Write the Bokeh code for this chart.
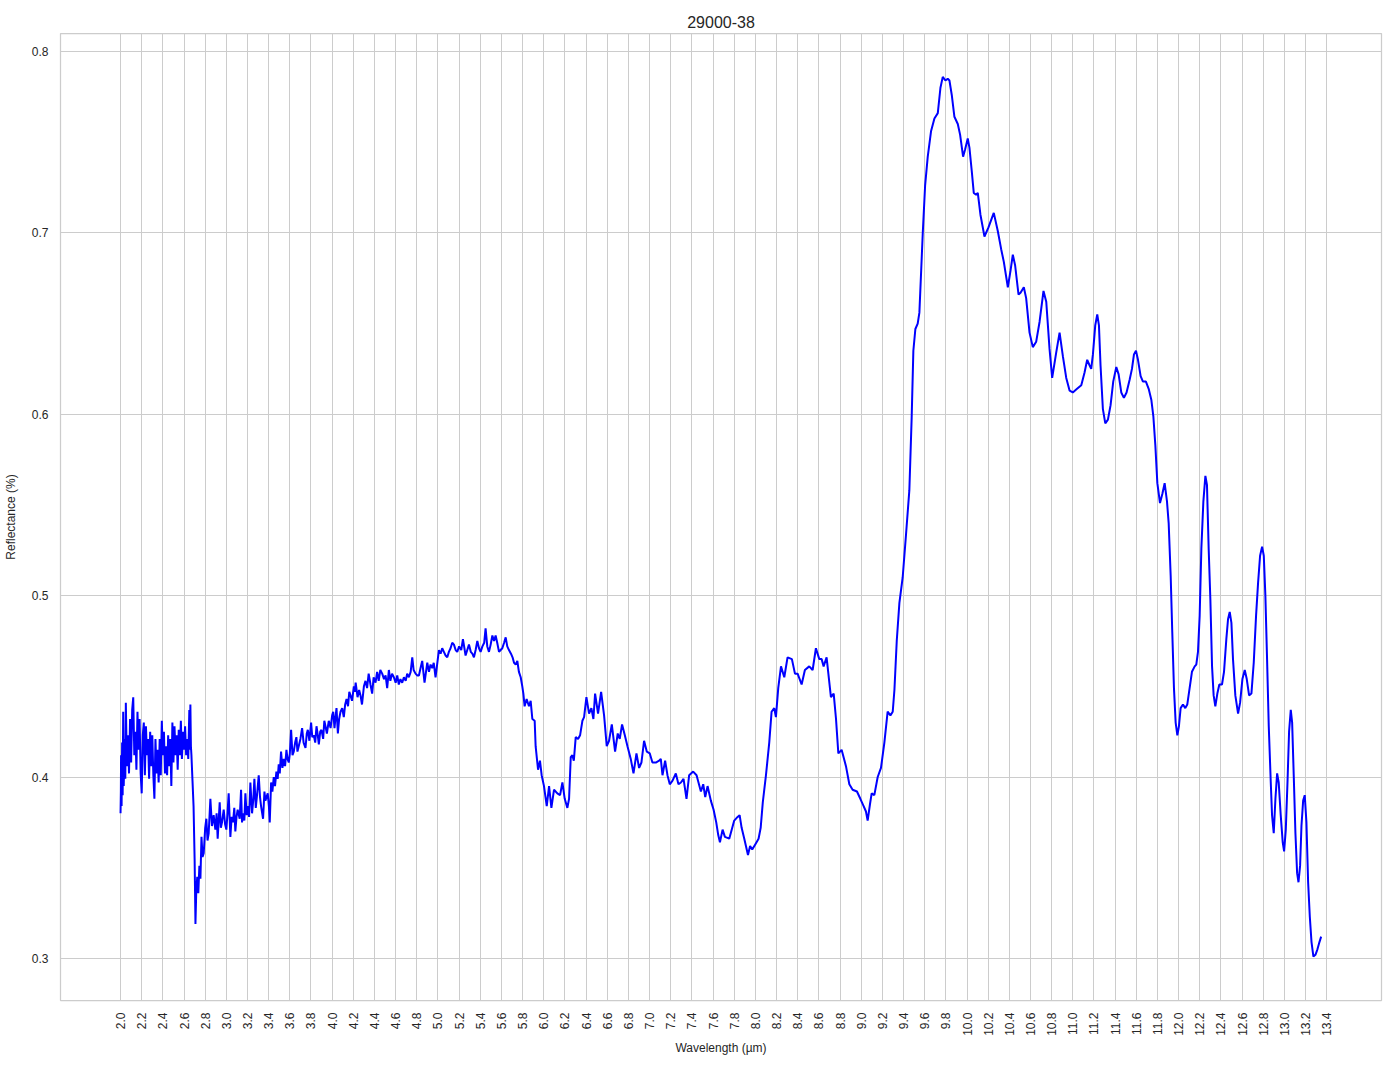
import math
from bokeh.plotting import figure
from bokeh.models import FixedTicker, PrintfTickFormatter, Range1d
from bokeh.embed import file_html
from bokeh.resources import INLINE

title_text = "29000-38"
x_label = "Wavelength (µm)"
y_label = "Reflectance (%)"

x_ticks = [2.0, 2.2, 2.4, 2.6, 2.8, 3.0, 3.2, 3.4, 3.6, 3.8, 4.0, 4.2, 4.4, 4.6, 4.8,
           5.0, 5.2, 5.4, 5.6, 5.8, 6.0, 6.2, 6.4, 6.6, 6.8, 7.0, 7.2, 7.4, 7.6, 7.8,
           8.0, 8.2, 8.4, 8.6, 8.8, 9.0, 9.2, 9.4, 9.6, 9.8, 10.0, 10.2, 10.4, 10.6,
           10.8, 11.0, 11.2, 11.4, 11.6, 11.8, 12.0, 12.2, 12.4, 12.6, 12.8, 13.0,
           13.2, 13.4]
y_ticks = [0.3, 0.4, 0.5, 0.6, 0.7, 0.8]

wavelength = [
    2.000, 2.003, 2.005, 2.010, 2.015, 2.020, 2.025, 2.030, 2.040, 2.045, 2.050, 2.060,
    2.070, 2.080, 2.090, 2.100, 2.110, 2.120, 2.130, 2.140, 2.150, 2.160, 2.170, 2.180,
    2.190, 2.200, 2.210, 2.220, 2.230, 2.240, 2.250, 2.260, 2.270, 2.280, 2.290, 2.300,
    2.310, 2.320, 2.330, 2.340, 2.350, 2.360, 2.370, 2.380, 2.390, 2.400, 2.410, 2.420,
    2.430, 2.440, 2.450, 2.460, 2.470, 2.480, 2.490, 2.500, 2.510, 2.520, 2.530, 2.540,
    2.550, 2.560, 2.570, 2.580, 2.590, 2.600, 2.610, 2.620, 2.630, 2.640, 2.650, 2.655,
    2.660, 2.665, 2.670, 2.680, 2.690, 2.700, 2.708, 2.716, 2.725, 2.735, 2.745, 2.755,
    2.765, 2.775, 2.786, 2.800, 2.811, 2.822, 2.833, 2.849, 2.864, 2.880, 2.896, 2.908,
    2.918, 2.937, 2.948, 2.959, 2.975, 2.988, 3.000, 3.011, 3.022, 3.038, 3.050, 3.063,
    3.075, 3.085, 3.096, 3.107, 3.126, 3.139, 3.148, 3.158, 3.170, 3.180, 3.192, 3.202,
    3.215, 3.227, 3.243, 3.255, 3.265, 3.278, 3.290, 3.306, 3.318, 3.328, 3.347, 3.360,
    3.369, 3.391, 3.402, 3.410, 3.423, 3.435, 3.448, 3.460, 3.473, 3.485, 3.495, 3.505,
    3.517, 3.530, 3.543, 3.555, 3.568, 3.578, 3.590, 3.600, 3.612, 3.625, 3.637, 3.650,
    3.662, 3.672, 3.684, 3.700, 3.716, 3.730, 3.748, 3.760, 3.770, 3.785, 3.801, 3.812,
    3.826, 3.840, 3.852, 3.862, 3.874, 3.887, 3.899, 3.915, 3.926, 3.937, 3.950, 3.968,
    3.985, 4.000, 4.010, 4.022, 4.032, 4.041, 4.054, 4.066, 4.079, 4.095, 4.110, 4.123,
    4.136, 4.150, 4.162, 4.173, 4.188, 4.205, 4.215, 4.222, 4.240, 4.255, 4.268, 4.282,
    4.300, 4.315, 4.330, 4.345, 4.362, 4.378, 4.392, 4.410, 4.425, 4.440, 4.455, 4.473,
    4.490, 4.505, 4.520, 4.536, 4.550, 4.566, 4.583, 4.600, 4.615, 4.630, 4.645, 4.662,
    4.678, 4.695, 4.709, 4.725, 4.742, 4.757, 4.770, 4.788, 4.805, 4.820, 4.835, 4.851,
    4.862, 4.873, 4.887, 4.899, 4.915, 4.930, 4.946, 4.960, 4.977, 4.992, 5.009, 5.025,
    5.040, 5.056, 5.072, 5.088, 5.103, 5.119, 5.135, 5.151, 5.167, 5.182, 5.200, 5.220,
    5.236, 5.250, 5.261, 5.277, 5.293, 5.310, 5.325, 5.340, 5.356, 5.372, 5.388, 5.403,
    5.420, 5.437, 5.450, 5.466, 5.482, 5.498, 5.514, 5.530, 5.545, 5.560, 5.577, 5.592,
    5.608, 5.625, 5.640, 5.655, 5.671, 5.690, 5.705, 5.719, 5.735, 5.750, 5.765, 5.782,
    5.797, 5.807, 5.819, 5.838, 5.860, 5.876, 5.892, 5.914, 5.923, 5.946, 5.964, 5.980,
    6.002, 6.028, 6.050, 6.072, 6.097, 6.128, 6.154, 6.176, 6.198, 6.223, 6.239, 6.255,
    6.270, 6.284, 6.302, 6.324, 6.343, 6.365, 6.381, 6.403, 6.428, 6.450, 6.469, 6.485,
    6.513, 6.542, 6.570, 6.595, 6.617, 6.643, 6.674, 6.699, 6.718, 6.740, 6.766, 6.791,
    6.822, 6.848, 6.876, 6.901, 6.923, 6.948, 6.974, 7.002, 7.027, 7.059, 7.090, 7.106,
    7.122, 7.147, 7.169, 7.191, 7.217, 7.248, 7.273, 7.296, 7.321, 7.349, 7.374, 7.412,
    7.444, 7.485, 7.507, 7.526, 7.548, 7.579, 7.605, 7.630, 7.649, 7.665, 7.690, 7.712,
    7.753, 7.800, 7.832, 7.851, 7.870, 7.895, 7.930, 7.950, 7.970, 8.000, 8.030, 8.050,
    8.070, 8.100, 8.131, 8.153, 8.178, 8.194, 8.216, 8.242, 8.273, 8.304, 8.345, 8.374,
    8.399, 8.437, 8.468, 8.509, 8.541, 8.572, 8.604, 8.626, 8.645, 8.673, 8.714, 8.740,
    8.762, 8.784, 8.815, 8.856, 8.888, 8.919, 8.960, 8.992, 9.023, 9.045, 9.061, 9.083,
    9.099, 9.124, 9.156, 9.187, 9.219, 9.250, 9.276, 9.298, 9.314, 9.336, 9.361, 9.392,
    9.424, 9.455, 9.477, 9.493, 9.512, 9.534, 9.550, 9.566, 9.582, 9.604, 9.629, 9.660,
    9.692, 9.724, 9.749, 9.771, 9.796, 9.818, 9.834, 9.856, 9.881, 9.913, 9.935, 9.963,
    9.982, 10.007, 10.023, 10.045, 10.064, 10.086, 10.102, 10.127, 10.165, 10.203, 10.253, 10.291,
    10.323, 10.348, 10.386, 10.411, 10.433, 10.455, 10.487, 10.506, 10.537, 10.559, 10.591, 10.622,
    10.654, 10.686, 10.723, 10.749, 10.780, 10.805, 10.843, 10.875, 10.906, 10.938, 10.970, 11.000,
    11.040, 11.080, 11.111, 11.136, 11.158, 11.174, 11.190, 11.212, 11.231, 11.247, 11.262, 11.284,
    11.307, 11.332, 11.357, 11.382, 11.411, 11.433, 11.458, 11.483, 11.508, 11.537, 11.559, 11.578,
    11.597, 11.616, 11.641, 11.663, 11.691, 11.717, 11.742, 11.761, 11.780, 11.799, 11.824, 11.846,
    11.868, 11.890, 11.906, 11.925, 11.940, 11.956, 11.972, 11.988, 12.003, 12.019, 12.041, 12.063,
    12.082, 12.104, 12.126, 12.152, 12.167, 12.183, 12.199, 12.215, 12.234, 12.253, 12.268, 12.284,
    12.300, 12.316, 12.331, 12.347, 12.366, 12.385, 12.410, 12.429, 12.451, 12.467, 12.483, 12.499,
    12.514, 12.536, 12.562, 12.581, 12.603, 12.625, 12.644, 12.666, 12.688, 12.710, 12.732, 12.751,
    12.770, 12.789, 12.805, 12.820, 12.836, 12.852, 12.871, 12.883, 12.899, 12.915, 12.931, 12.946,
    12.965, 12.984, 12.997, 13.013, 13.029, 13.044, 13.060, 13.073, 13.088, 13.104, 13.120, 13.133,
    13.148, 13.161, 13.177, 13.192, 13.208, 13.224, 13.240, 13.256, 13.274, 13.293, 13.312, 13.331,
    13.347,
]

reflectance = [
    0.380, 0.392, 0.412, 0.384, 0.419, 0.390, 0.436, 0.395, 0.421, 0.399, 0.441, 0.406,
    0.423, 0.402, 0.432, 0.408, 0.437, 0.444, 0.412, 0.425, 0.404, 0.436, 0.415, 0.432,
    0.402, 0.391, 0.423, 0.430, 0.401, 0.428, 0.412, 0.421, 0.399, 0.425, 0.406, 0.423,
    0.401, 0.388, 0.421, 0.402, 0.415, 0.397, 0.421, 0.401, 0.431, 0.412, 0.425, 0.402,
    0.417, 0.401, 0.423, 0.406, 0.421, 0.395, 0.430, 0.408, 0.428, 0.412, 0.423, 0.404,
    0.426, 0.412, 0.431, 0.410, 0.425, 0.415, 0.428, 0.412, 0.421, 0.410, 0.437, 0.415,
    0.440, 0.417, 0.412, 0.398, 0.384, 0.355, 0.319, 0.338, 0.345, 0.336, 0.351, 0.344,
    0.367, 0.356, 0.358, 0.372, 0.377, 0.365, 0.369, 0.388, 0.373, 0.379, 0.371, 0.380,
    0.366, 0.386, 0.372, 0.375, 0.382, 0.374, 0.371, 0.380, 0.391, 0.367, 0.378, 0.375,
    0.383, 0.370, 0.378, 0.382, 0.377, 0.393, 0.375, 0.380, 0.376, 0.391, 0.379, 0.384,
    0.378, 0.397, 0.380, 0.388, 0.399, 0.383, 0.390, 0.401, 0.389, 0.384, 0.377, 0.392,
    0.387, 0.391, 0.384, 0.375, 0.397, 0.392, 0.400, 0.395, 0.403, 0.399, 0.407, 0.402,
    0.414, 0.405, 0.410, 0.406, 0.415, 0.410, 0.408, 0.413, 0.426, 0.412, 0.414, 0.419,
    0.422, 0.414, 0.417, 0.421, 0.427, 0.419, 0.416, 0.424, 0.426, 0.420, 0.430, 0.422,
    0.423, 0.419, 0.428, 0.424, 0.418, 0.425, 0.426, 0.421, 0.431, 0.428, 0.424, 0.431,
    0.427, 0.434, 0.436, 0.427, 0.433, 0.438, 0.424, 0.432, 0.436, 0.438, 0.433, 0.440,
    0.443, 0.439, 0.447, 0.445, 0.442, 0.450, 0.447, 0.452, 0.444, 0.448, 0.445, 0.440,
    0.450, 0.453, 0.449, 0.457, 0.451, 0.446, 0.455, 0.452, 0.458, 0.453, 0.459, 0.457,
    0.454, 0.456, 0.449, 0.459, 0.453, 0.457, 0.455, 0.452, 0.456, 0.451, 0.454, 0.452,
    0.455, 0.453, 0.457, 0.455, 0.458, 0.466, 0.459, 0.457, 0.456, 0.456, 0.460, 0.464,
    0.458, 0.452, 0.458, 0.463, 0.458, 0.462, 0.460, 0.463, 0.455, 0.462, 0.470, 0.468,
    0.471, 0.469, 0.467, 0.466, 0.469, 0.471, 0.474, 0.473, 0.470, 0.469, 0.472, 0.470,
    0.476, 0.471, 0.467, 0.470, 0.473, 0.469, 0.468, 0.466, 0.470, 0.475, 0.471, 0.469,
    0.472, 0.474, 0.482, 0.472, 0.469, 0.473, 0.478, 0.475, 0.478, 0.474, 0.469, 0.470,
    0.471, 0.474, 0.477, 0.472, 0.470, 0.468, 0.466, 0.463, 0.462, 0.464, 0.458, 0.455,
    0.450, 0.446, 0.439, 0.443, 0.439, 0.442, 0.432, 0.431, 0.417, 0.404, 0.409, 0.401,
    0.395, 0.384, 0.395, 0.383, 0.393, 0.391, 0.390, 0.397, 0.388, 0.383, 0.388, 0.411,
    0.412, 0.409, 0.422, 0.421, 0.423, 0.431, 0.433, 0.444, 0.435, 0.438, 0.432, 0.446,
    0.435, 0.447, 0.434, 0.417, 0.420, 0.429, 0.414, 0.424, 0.421, 0.429, 0.423, 0.417,
    0.410, 0.402, 0.413, 0.405, 0.408, 0.420, 0.414, 0.413, 0.408, 0.408, 0.409, 0.410,
    0.401, 0.409, 0.401, 0.396, 0.398, 0.402, 0.396, 0.397, 0.399, 0.388, 0.401, 0.403,
    0.401, 0.392, 0.396, 0.389, 0.395, 0.387, 0.382, 0.375, 0.368, 0.364, 0.371, 0.367,
    0.366, 0.376, 0.378, 0.379, 0.372, 0.366, 0.357, 0.362, 0.360, 0.363, 0.366, 0.372,
    0.386, 0.401, 0.419, 0.436, 0.438, 0.433, 0.449, 0.461, 0.455, 0.466, 0.465, 0.457,
    0.457, 0.451, 0.459, 0.461, 0.459, 0.471, 0.465, 0.465, 0.461, 0.466, 0.444, 0.446,
    0.432, 0.413, 0.415, 0.406, 0.396, 0.393, 0.392, 0.388, 0.384, 0.381, 0.376, 0.385,
    0.391, 0.390, 0.400, 0.405, 0.419, 0.436, 0.434, 0.436, 0.448, 0.475, 0.496, 0.510,
    0.534, 0.558, 0.598, 0.635, 0.647, 0.650, 0.656, 0.678, 0.700, 0.726, 0.742, 0.756,
    0.763, 0.766, 0.780, 0.786, 0.784, 0.785, 0.784, 0.776, 0.764, 0.760, 0.754, 0.742,
    0.746, 0.752, 0.747, 0.734, 0.722, 0.721, 0.722, 0.710, 0.698, 0.703, 0.711, 0.701,
    0.691, 0.684, 0.670, 0.679, 0.688, 0.682, 0.666, 0.667, 0.670, 0.664, 0.645, 0.637,
    0.640, 0.651, 0.668, 0.662, 0.636, 0.620, 0.634, 0.645, 0.632, 0.620, 0.613, 0.612,
    0.614, 0.616, 0.623, 0.630, 0.627, 0.625, 0.633, 0.649, 0.655, 0.649, 0.627, 0.603,
    0.595, 0.597, 0.605, 0.618, 0.626, 0.622, 0.612, 0.609, 0.612, 0.619, 0.625, 0.633,
    0.635, 0.630, 0.621, 0.618, 0.618, 0.614, 0.608, 0.599, 0.583, 0.562, 0.551, 0.556,
    0.562, 0.552, 0.540, 0.511, 0.480, 0.449, 0.430, 0.423, 0.428, 0.438, 0.440, 0.438,
    0.440, 0.449, 0.458, 0.461, 0.462, 0.469, 0.489, 0.526, 0.552, 0.566, 0.561, 0.526,
    0.498, 0.461, 0.445, 0.439, 0.446, 0.451, 0.451, 0.458, 0.476, 0.487, 0.491, 0.485,
    0.465, 0.445, 0.435, 0.441, 0.454, 0.459, 0.454, 0.445, 0.446, 0.463, 0.489, 0.507,
    0.522, 0.527, 0.522, 0.500, 0.465, 0.428, 0.397, 0.379, 0.369, 0.388, 0.402, 0.397,
    0.379, 0.364, 0.359, 0.371, 0.397, 0.425, 0.437, 0.430, 0.401, 0.369, 0.347, 0.342,
    0.351, 0.373, 0.387, 0.390, 0.375, 0.342, 0.323, 0.309, 0.301, 0.302, 0.305, 0.309,
    0.312,
]

FONT = "Liberation Sans"
TXT = "#262626"
GRID = "#cccccc"

p = figure(frame_width=1321, frame_height=967,
           x_range=Range1d(1.4325, 13.9175), y_range=Range1d(0.2768, 0.8099),
           output_backend="svg", toolbar_location=None, title=title_text,
           min_border_left=52, min_border_right=5, min_border_top=33, min_border_bottom=60,
           background_fill_color="white", border_fill_color="white")

p.title.align = "center"
p.title.text_font = FONT
p.title.text_font_size = "16px"
p.title.text_font_style = "normal"
p.title.text_color = TXT
p.title.standoff = 12

p.line(wavelength, reflectance, line_color="#0000ff", line_width=2)

p.xaxis.ticker = FixedTicker(ticks=x_ticks)
p.xaxis.formatter = PrintfTickFormatter(format="%.1f")
p.xaxis.major_label_orientation = math.pi / 2
p.xaxis.axis_label = x_label
p.yaxis.ticker = FixedTicker(ticks=y_ticks)
p.yaxis.formatter = PrintfTickFormatter(format="%.1f")
p.yaxis.axis_label = y_label

for ax in (p.xaxis[0], p.yaxis[0]):
    ax.axis_line_color = None
    ax.major_tick_line_color = None
    ax.minor_tick_line_color = None
    ax.major_label_text_font = FONT
    ax.major_label_text_font_size = "12px"
    ax.major_label_text_color = TXT
    ax.axis_label_text_font = FONT
    ax.axis_label_text_font_size = "12px"
    ax.axis_label_text_font_style = "normal"
    ax.axis_label_text_color = TXT

p.xaxis.major_label_standoff = 6
p.xaxis.axis_label_standoff = 2
p.yaxis.major_label_standoff = 6
p.yaxis.axis_label_standoff = 11

p.xgrid.ticker = FixedTicker(ticks=x_ticks)
p.ygrid.ticker = FixedTicker(ticks=y_ticks)
p.xgrid.grid_line_color = GRID
p.ygrid.grid_line_color = GRID
p.xgrid.grid_line_width = 1
p.ygrid.grid_line_width = 1
p.outline_line_color = GRID
p.outline_line_width = 1.25

open("out.html", "w").write(file_html(p, INLINE))
